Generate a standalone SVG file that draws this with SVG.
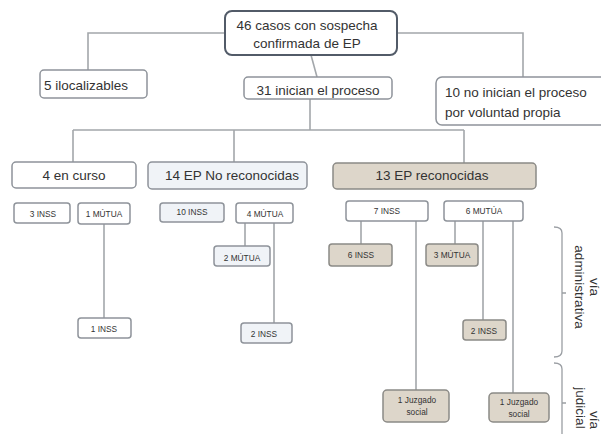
<svg xmlns="http://www.w3.org/2000/svg" width="601" height="434" viewBox="0 0 601 434">
<style>
.bx{fill:#fff;stroke:#8e939a;stroke-width:1.5}
.lb{fill:#f0f3f7}
.bg{fill:#ddd6ca;stroke:#8b8a86}
.top{fill:#fff;stroke:#525b68;stroke-width:2}
.c{fill:none;stroke:#a3a7ab;stroke-width:1.6}
.br{fill:none;stroke:#9a9ea3;stroke-width:1.3}
text{font-family:"Liberation Sans",Arial,sans-serif;fill:#333}
.t{font-size:13.5px}
.s{font-size:8.3px}
.m{text-anchor:middle}
.v{font-size:13.5px;fill:#333}
</style>
<rect width="601" height="434" fill="#fff"/>
<g id="connectors">
<path class="c" d="M225,33 H88 V70"/>
<path class="c" d="M397,33 H523 V77"/>
<path class="c" d="M311,55 L317,77"/>
<path class="c" d="M310,99 V130 M73,130 H464 M73,130 V162 M234,130 V162 M464,130 V163"/>
<path class="c" d="M104,224 V318"/>
<path class="c" d="M245,223 V246 M274,223 V323"/>
<path class="c" d="M361,221 V244 M416,221 V390"/>
<path class="c" d="M455,221 V244 M483,221 V320 M513,221 V393"/>
</g>
<g id="brackets">
<path class="br" d="M554,227 Q562,227 562,233 V351 Q562,357 554,357 M562,293 H566"/>
<path class="br" d="M554,363 Q562,363 562,369 V434 M562,403 H566"/>
<text class="v" transform="translate(590,287) rotate(90)" text-anchor="middle">vía</text>
<text class="v" transform="translate(575,287) rotate(90)" text-anchor="middle">administrativa</text>
<text class="v" transform="translate(590,420) rotate(90)" text-anchor="middle">vía</text>
<text class="v" transform="translate(576,408) rotate(90)" text-anchor="middle">judicial</text>
</g>
<g id="n-top"><rect class="top" x="225" y="11" width="172" height="44" rx="7"/>
<text class="t m" x="307" y="30">46 casos con sospecha</text>
<text class="t m" x="307" y="48">confirmada  de EP</text></g>
<g id="n-iloc"><rect class="bx" x="40" y="70" width="107" height="28" rx="4"/>
<text class="t" x="44" y="90">5 ilocalizables</text></g>
<g id="n-inician"><rect class="bx" x="244" y="77" width="148" height="22" rx="4"/>
<text class="t m" x="318" y="95">31 inician el proceso</text></g>
<g id="n-noinician"><rect class="bx" x="436" y="77" width="175" height="48" rx="6"/>
<text class="t" x="445" y="97">10 no inician el proceso</text>
<text class="t" x="445" y="117">por voluntad propia</text></g>
<g id="n-curso"><rect class="bx" x="12" y="162" width="124" height="26" rx="4"/>
<text class="t m" x="74" y="180">4 en curso</text></g>
<g id="n-noreco"><rect class="bx lb" x="148" y="162" width="159" height="27" rx="4"/>
<text class="t m" x="232" y="180">14 EP No reconocidas</text></g>
<g id="n-reco"><rect class="bx bg" x="333" y="163" width="203" height="26" rx="4"/>
<text class="t m" x="432" y="180">13 EP reconocidas</text></g>
<g id="n-3inss"><rect class="bx" x="14" y="203" width="56" height="20" rx="3"/>
<text class="s m" x="43" y="217">3 INSS</text></g>
<g id="n-1mutua"><rect class="bx" x="78" y="203" width="52" height="21" rx="3"/>
<text class="s m" x="104" y="217">1 MÚTUA</text></g>
<g id="n-1inss"><rect class="bx" x="78" y="318" width="53" height="20" rx="3"/>
<text class="s m" x="104" y="332">1 INSS</text></g>
<g id="n-10inss"><rect class="bx lb" x="160" y="203" width="64" height="19" rx="3"/>
<text class="s m" x="192" y="215">10 INSS</text></g>
<g id="n-4mutua"><rect class="bx" x="236" y="203" width="57" height="20" rx="3"/>
<text class="s m" x="265" y="217">4 MÚTUA</text></g>
<g id="n-2mutua"><rect class="bx lb" x="214" y="246" width="56" height="20" rx="3"/>
<text class="s m" x="242" y="261">2 MÚTUA</text></g>
<g id="n-2inss-a"><rect class="bx lb" x="241" y="323" width="51" height="20" rx="3"/>
<text class="s m" x="264" y="337">2 INSS</text></g>
<g id="n-7inss"><rect class="bx" x="346" y="201" width="82" height="20" rx="3"/>
<text class="s m" x="387" y="214">7 INSS</text></g>
<g id="n-6mutua"><rect class="bx" x="444" y="201" width="79" height="20" rx="3"/>
<text class="s m" x="484" y="214">6 MUTÚA</text></g>
<g id="n-6inss"><rect class="bx bg" x="329" y="244" width="63" height="22" rx="3"/>
<text class="s m" x="361" y="258">6 INSS</text></g>
<g id="n-3mutua"><rect class="bx bg" x="426" y="244" width="52" height="22" rx="3"/>
<text class="s m" x="452" y="258">3 MÚTUA</text></g>
<g id="n-2inss-b"><rect class="bx bg" x="463" y="320" width="43" height="20" rx="3"/>
<text class="s m" x="484" y="334">2 INSS</text></g>
<g id="n-juz1"><rect class="bx bg" x="383" y="390" width="66" height="32" rx="4"/>
<text class="s m" x="417" y="403">1 Juzgado</text>
<text class="s m" x="417" y="415">social</text></g>
<g id="n-juz2"><rect class="bx bg" x="489" y="393" width="60" height="29" rx="4"/>
<text class="s m" x="519" y="405">1 Juzgado</text>
<text class="s m" x="519" y="417">social</text></g>
</svg>
